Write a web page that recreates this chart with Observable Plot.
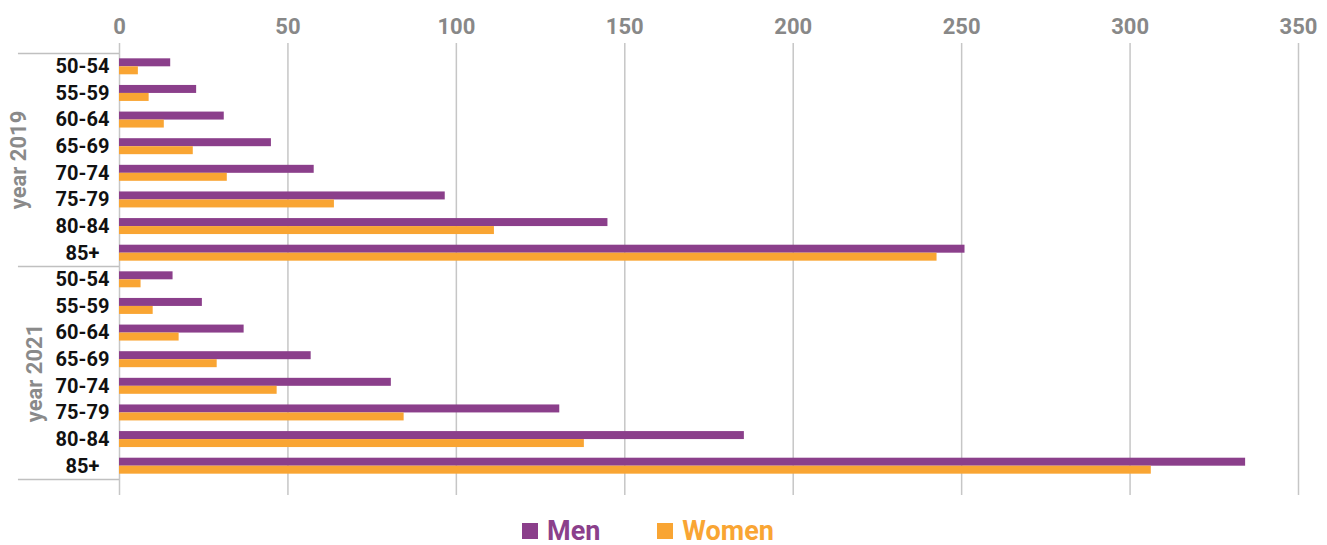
<!DOCTYPE html>
<html><head><meta charset="utf-8">
<script src="https://cdn.jsdelivr.net/npm/d3@7"></script>
<script src="https://cdn.jsdelivr.net/npm/@observablehq/plot@0.6"></script>
<style>
body{margin:0;background:#fff;font-family:Roboto,"Liberation Sans",sans-serif;}
#legend{display:flex;align-items:center;height:30px;margin-top:16px;padding-left:522px;font-weight:bold;font-size:27px;}
.item{display:flex;align-items:center;}
.sw{width:16px;height:16px;display:inline-block;margin-right:9px;}
</style></head><body>
<div id="chart"></div>
<div id="legend"></div>
<script>
// ---- data ----
const ages = ["50-54","55-59","60-64","65-69","70-74","75-79","80-84","85+"];
const years = ["2019","2021"];
const yearLabels = ["year 2019","year 2021"];
const men2019   = [15.2, 22.9, 31.1, 45.1, 57.8, 96.7, 145.0, 251.0];
const women2019 = [5.6, 8.8, 13.3, 21.9, 32.0, 63.8, 111.3, 242.7];
const men2021   = [15.9, 24.6, 37.0, 56.9, 80.7, 130.7, 185.5, 334.3];
const women2021 = [6.4, 10.0, 17.7, 29.0, 46.8, 84.5, 138.0, 306.3];
const xTicks = [0, 50, 100, 150, 200, 250, 300, 350];
const seriesNames = ["Men", "Women"];

// ---- styles ----
const MEN = "#8b3f8b", WOMEN = "#f9a533";
const W = 1327, H = 500, mTop = 43, mBottom = 5, mLeft = 119, mRight = 29;
const yRange = [53, 479];
const step = (yRange[1] - yRange[0]) / (ages.length * years.length);
const bw = step * 0.6;

const menByYear = {"2019": men2019, "2021": men2021};
const womenByYear = {"2019": women2019, "2021": women2021};
const rows = years.flatMap(yr => ages.map((a, i) => ({
  key: yr + " " + a, year: yr, age: a,
  men: menByYear[yr][i], women: womenByYear[yr][i]
})));
const keys = rows.map(d => d.key);
const groupTops = years.map(yr => yr + " " + ages[0]);
const groupEnd = [years[years.length - 1] + " " + ages[ages.length - 1]];
const yearMid = years.map((yr, i) => ({key: yr + " " + ages[ages.length / 2], label: yearLabels[i]}));

const chart = Plot.plot({
  width: W, height: H,
  marginTop: mTop, marginBottom: mBottom, marginLeft: mLeft, marginRight: mRight,
  style: {fontFamily: "Roboto, 'Liberation Sans', sans-serif", background: "white"},
  x: {domain: [0, 350], axis: null},
  y: {domain: keys, range: yRange, paddingInner: 0.4, paddingOuter: 0.2, round: false, axis: null},
  marks: [
    Plot.ruleX(xTicks, {stroke: "#c6c6c6", strokeWidth: 1.5}),
    Plot.ruleY(groupTops, {y: d => d, x1: -30, x2: 0, dy: -step / 2, stroke: "#c0c0c0", strokeWidth: 1.5}),
    Plot.ruleY(groupEnd, {y: d => d, x1: -30, x2: 0, dy: step / 2, stroke: "#c0c0c0", strokeWidth: 1.5}),
    Plot.barX(rows, {y: "key", x: "men", fill: MEN, insetBottom: bw / 2}),
    Plot.barX(rows, {y: "key", x: "women", fill: WOMEN, insetTop: bw / 2}),
    Plot.text(xTicks, {x: d => d, text: d => String(d), frameAnchor: "top", lineAnchor: "middle",
      textAnchor: "middle", dy: -17, fill: "#888", fontSize: 22, fontWeight: "bold"}),
    Plot.text(rows, {y: "key", text: "age", frameAnchor: "left", dx: -37, textAnchor: "middle",
      lineAnchor: "middle", fill: "#111", fontSize: 20, fontWeight: "bold"}),
    Plot.text(yearMid.slice(0, 1), {y: "key", text: "label", frameAnchor: "left", dx: -101, dy: -step / 2,
      textAnchor: "middle", lineAnchor: "middle",
      rotate: -90, fill: "#8a8a8a", fontSize: 22, fontWeight: "bold"}),
    Plot.text(yearMid.slice(1), {y: "key", text: "label", frameAnchor: "left", dx: -85, dy: -step / 2,
      textAnchor: "middle", lineAnchor: "middle",
      rotate: -90, fill: "#8a8a8a", fontSize: 22, fontWeight: "bold"})
  ]
});
document.getElementById("chart").appendChild(chart);

const legend = document.getElementById("legend");
[MEN, WOMEN].forEach((c, i) => {
  const it = document.createElement("div");
  it.className = "item";
  if (i > 0) it.style.marginLeft = "57px";
  it.innerHTML = `<span class="sw" style="background:${c}"></span><span style="color:${c}">${seriesNames[i]}</span>`;
  legend.appendChild(it);
});
</script>
</body></html>
